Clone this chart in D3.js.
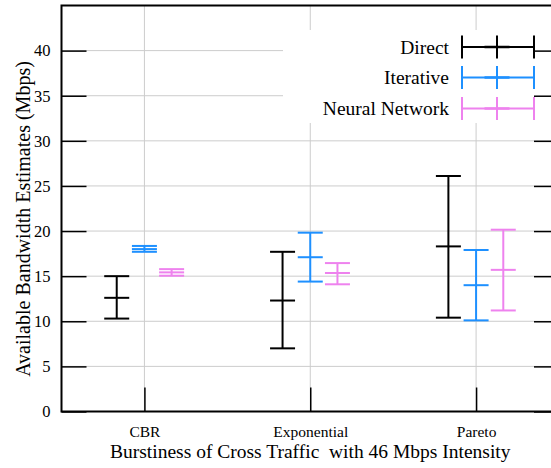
<!DOCTYPE html>
<html><head><meta charset="utf-8">
<script src="https://cdn.jsdelivr.net/npm/d3@7"></script>
<style>
html,body{margin:0;padding:0;background:#fff;overflow:hidden}
text{font-family:"Liberation Serif","Times New Roman",serif;fill:#000}
</style></head>
<body>
<svg id="chart" width="551" height="468"></svg>
<script>
const categories = ["CBR", "Exponential", "Pareto"];
const seriesNames = ["Direct", "Iterative", "Neural Network"];
const directMean = [12.6, 12.3, 18.3];
const directLow = [10.3, 7.0, 10.4];
const directHigh = [15.0, 17.7, 26.1];
const iterMean = [18.0, 17.1, 14.0];
const iterLow = [17.7, 14.4, 10.1];
const iterHigh = [18.35, 19.82, 17.9];
const nnMean = [15.42, 15.35, 15.7];
const nnLow = [15.05, 14.1, 11.2];
const nnHigh = [15.78, 16.45, 20.15];
const yTicks = [0, 5, 10, 15, 20, 25, 30, 35, 40];
const colors = ["#000000", "#1e90ff", "#ee82ee"];

const series = [
  {name: seriesNames[0], mean: directMean, low: directLow, high: directHigh, color: colors[0], off: -0.167},
  {name: seriesNames[1], mean: iterMean, low: iterLow, high: iterHigh, color: colors[1], off: 0},
  {name: seriesNames[2], mean: nnMean, low: nnLow, high: nnHigh, color: colors[2], off: 0.164}
];

const svg = d3.select("#chart");
const L = 61.5, R = 559, T = 5.5, B = 411.5;
const x = d3.scaleLinear().domain([0.5, 3.5]).range([L, R]);
const y = d3.scaleLinear().domain([0, 45]).range([B, T]);

// grid
const grid = svg.append("g").attr("stroke", "#cccccc").attr("stroke-width", 1);
yTicks.filter(v => v > 0).forEach(v => {
  grid.append("line").attr("x1", L).attr("x2", R).attr("y1", y(v)).attr("y2", y(v));
});
[1, 2, 3].forEach(v => {
  grid.append("line").attr("x1", x(v)).attr("x2", x(v)).attr("y1", T).attr("y2", B);
});

// legend background
const legX0 = 283, legY0 = 30, legY1 = 123;
svg.append("rect").attr("x", legX0).attr("y", legY0).attr("width", R - legX0).attr("height", legY1 - legY0).attr("fill", "#fff");

// error bars
const capW = 12.5;
series.forEach(s => {
  const g = svg.append("g").attr("stroke", s.color).attr("stroke-width", 2).attr("fill", "none");
  categories.forEach((c, i) => {
    const cx = x(i + 1 + s.off);
    g.append("line").attr("x1", cx).attr("x2", cx).attr("y1", y(s.low[i])).attr("y2", y(s.high[i]));
    g.append("line").attr("x1", cx - capW).attr("x2", cx + capW).attr("y1", y(s.low[i])).attr("y2", y(s.low[i]));
    g.append("line").attr("x1", cx - capW).attr("x2", cx + capW).attr("y1", y(s.high[i])).attr("y2", y(s.high[i]));
    g.append("line").attr("x1", cx - capW).attr("x2", cx + capW).attr("y1", y(s.mean[i])).attr("y2", y(s.mean[i]));
  });
});

// axes
const yAxis = d3.axisLeft(y).tickValues(yTicks).tickSize(-25).tickPadding(11).tickFormat(d3.format("d"));
const gy = svg.append("g").attr("transform", `translate(${L},0)`).call(yAxis);
gy.select(".domain").remove();
gy.selectAll(".tick line").attr("stroke", "#000").attr("stroke-width", 1.5);
gy.selectAll(".tick text").style("font-size", "16.5px").attr("font-family", null);

const yAxisR = d3.axisRight(y).tickValues(yTicks).tickSize(-25).tickFormat("");
const gyr = svg.append("g").attr("transform", `translate(${R},0)`).call(yAxisR);
gyr.select(".domain").remove();
gyr.selectAll(".tick line").attr("stroke", "#000").attr("stroke-width", 1.5);

const xAxis = d3.axisBottom(x).tickValues([1, 2, 3]).tickSize(-24).tickPadding(14.5).tickFormat(d => categories[d - 1]);
const gx = svg.append("g").attr("transform", `translate(0,${B})`).call(xAxis);
gx.select(".domain").remove();
gx.selectAll(".tick line").attr("stroke", "#000").attr("stroke-width", 1.5);
gx.selectAll(".tick text").style("font-size", "15.5px").attr("font-family", null);

// frame
svg.append("rect").attr("x", L).attr("y", T).attr("width", R - L).attr("height", B - T)
  .attr("fill", "none").attr("stroke", "#000").attr("stroke-width", 2);

// axis titles
svg.append("text").attr("x", x(2)).attr("y", 458).attr("text-anchor", "middle")
  .style("font-size", "19.5px").style("white-space", "pre")
  .text("Burstiness of Cross Traffic  with 46 Mbps Intensity");
svg.append("text").attr("transform", "translate(30,219) rotate(-90)").attr("text-anchor", "middle")
  .style("font-size", "20px").text("Available Bandwidth Estimates (Mbps)");

// legend
const legLineY = [47, 77.5, 108.5];
const lx0 = 462, lx1 = 534, lxm = 497, lh = 11.5;
series.forEach((s, i) => {
  const ly = legLineY[i];
  svg.append("text").attr("x", 449).attr("y", ly + 6.5).attr("text-anchor", "end")
    .style("font-size", "19.5px").text(s.name);
  const g = svg.append("g").attr("stroke", s.color).attr("stroke-width", 2);
  g.append("line").attr("x1", lx0).attr("x2", lx1).attr("y1", ly).attr("y2", ly);
  g.append("line").attr("x1", lx0).attr("x2", lx0).attr("y1", ly - lh).attr("y2", ly + lh);
  g.append("line").attr("x1", lx1).attr("x2", lx1).attr("y1", ly - lh).attr("y2", ly + lh);
  g.append("line").attr("x1", lxm).attr("x2", lxm).attr("y1", ly - lh).attr("y2", ly + lh);
  g.append("line").attr("x1", lxm - capW).attr("x2", lxm + capW).attr("y1", ly).attr("y2", ly).attr("stroke-width", 2.5);
});
</script>
</body></html>
